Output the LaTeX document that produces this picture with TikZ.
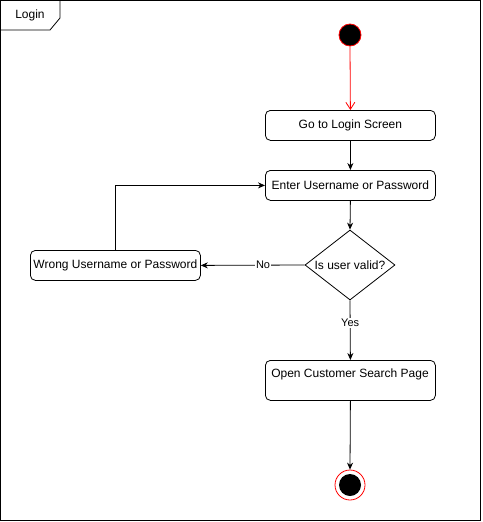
\documentclass[tikz,border=0pt]{standalone}
\usepackage{fontspec}
\setmainfont{Liberation Sans}
\usetikzlibrary{arrows.meta,shapes.geometric}
\begin{document}
\begin{tikzpicture}[x=1pt,y=-1pt,
  act/.style={draw,line width=0.8pt,rounded corners=5pt,minimum width=170pt,minimum height=30pt,inner sep=0pt,font=\fontsize{12}{14}\selectfont,anchor=north west},
  conn/.style={draw,line width=0.8pt,-{Stealth[length=7pt,width=6pt]}},
  lbl/.style={fill=white,inner sep=1pt,font=\fontsize{11}{13}\selectfont}]
\useasboundingbox (0,0) rectangle (482,522);
% frame
\draw[line width=0.8pt] (0.5,0.5) rectangle (480.5,520.5);
\draw[line width=0.8pt] (0.5,30) -- (50,30) -- (60,18) -- (60,0.5);
\node[font=\fontsize{12}{14}\selectfont] (title) at (30,15) {Login};
% start
\node[circle,draw=red,fill=black,line width=0.8pt,minimum size=22pt,inner sep=0pt] (start) at (350,35) {};
% activities
\node[act] (go) at (265,110) {};
\node[font=\fontsize{12}{14}\selectfont] at (go.center) {Go to Login Screen};
\node[act] (enter) at (265,170) {};
\node[font=\fontsize{12}{14}\selectfont] at (enter.center) {Enter Username or Password};
\node[diamond,draw,line width=0.8pt,minimum width=90pt,minimum height=70pt,inner sep=0pt,aspect=1.2857] (valid) at (350,265) {};
\node[font=\fontsize{12}{14}\selectfont] at (valid.center) {Is user valid?};
\node[act] (wrong) at (30,250) {};
\node[font=\fontsize{12}{14}\selectfont] at (wrong.center) {Wrong Username or Password};
\node[act,minimum height=40pt] (open) at (265,360) {};
\node[font=\fontsize{12}{14}\selectfont] at (350,374) {Open Customer Search Page};
% end
\node[circle,draw=red,line width=0.8pt,minimum size=30pt,inner sep=0pt] (endo) at (350,485) {};
\node[circle,fill=black,minimum size=22pt,inner sep=0pt] (endi) at (350,485) {};
% connectors
\draw[red,line width=0.8pt,-{Straight Barb[length=7pt,width=9pt]}] (start.south) -- (go.north);
\draw[conn] (go.south) -- (enter.north);
\draw[conn] (enter.south) -- (valid.north);
\draw[conn] (valid.west) -- node[lbl,pos=0.4] {No} (wrong.east);
\draw[conn] (wrong.north) |- (enter.west);
\draw[conn] (valid.south) -- node[lbl,pos=0.38] {Yes} (open.north);
\draw[conn] (open.south) -- (endo.north);
\end{tikzpicture}
\end{document}
